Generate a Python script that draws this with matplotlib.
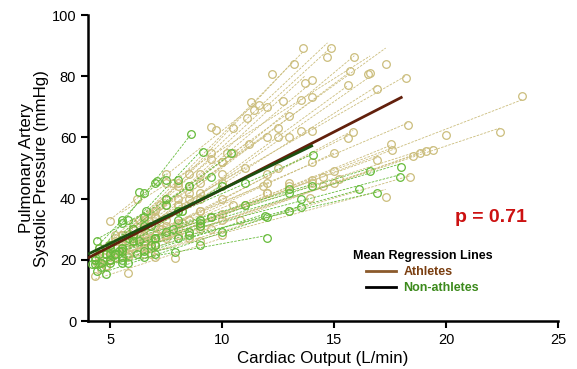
"""
Pulmonary artery systolic pressure vs cardiac output, per-subject regressions
"""

import numpy as np
import matplotlib
matplotlib.use("Agg")
import matplotlib.pyplot as plt
from matplotlib.lines import Line2D

plt.rcParams["font.family"] = ["Liberation Sans", "DejaVu Sans"]

# athletes: cardiac output (L/min) and PASP (mmHg) per subject
athlete_co = [
    [5.2, 6.8, 7.8, 10.5, 13.6],
    [5.8, 7.2, 8.5, 12.0, 14.85],
    [6.0, 7.5, 9.5, 12.2, 14.7],
    [5.5, 6.5, 8.0, 11.3, 13.2],
    [6.2, 8.0, 10.0, 13.5, 15.9],
    [6.5, 8.5, 10.5, 14.0, 17.3],
    [5.0, 6.5, 8.0, 11.65, 14.0],
    [5.5, 7.5, 9.5, 12.7, 16.6],
    [5.0, 6.2, 7.5, 9.7, 11.4],
    [5.5, 7.0, 8.5, 11.1, 13.7],
    [6.0, 7.5, 9.0, 12.5, 15.6],
    [6.5, 8.2, 10.0, 13.5, 16.9],
    [6.0, 8.0, 10.0, 14.0, 18.2],
    [5.5, 7.0, 9.0, 12.5, 15.7],
    [5.0, 7.0, 9.0, 13.0, 16.5],
    [5.5, 7.5, 10.0, 14.0, 18.3],
    [5.0, 7.5, 10.0, 15.0, 20.0, 23.4],
    [5.0, 7.0, 9.0, 14.0, 18.5, 22.4],
    [4.8, 7.0, 9.5, 14.5, 19.4],
    [4.8, 6.8, 9.5, 14.5, 19.1],
    [5.2, 7.5, 10.0, 15.0, 18.85],
    [4.5, 6.5, 9.0, 13.0, 17.55],
    [4.6, 6.5, 8.5, 13.0, 18.4],
    [4.8, 6.8, 9.0, 13.9, 17.3],
    [4.5, 5.8, 7.0, 10.8, 15.2],
    [5.0, 6.5, 8.0, 12.0, 15.85],
    [5.5, 7.2, 9.0, 12.5, 15.6],
    [5.0, 6.8, 8.5, 12.0, 15.0],
    [5.0, 6.5, 8.0, 12.0, 16.9],
    [4.3, 5.8, 7.0, 7.9, 10.0],
    [4.5, 5.5, 6.5, 8.5, 11.0],
    [5.0, 6.0, 7.0, 9.0, 11.2],
    [5.5, 6.5, 7.5, 10.0, 12.0],
    [4.8, 5.8, 7.0, 9.5, 12.0],
    [5.0, 6.5, 8.0, 11.0, 14.0],
    [6.0, 7.5, 9.0, 13.0, 17.6],
    [4.5, 5.2, 6.0, 8.0, 9.5],
    [5.2, 6.3, 7.5, 10.2, 13.0],
    [4.4, 5.5, 6.6, 8.2, 10.5],
    [4.7, 6.0, 7.3, 9.0, 11.8],
]
athlete_pasp = [
    [27, 35, 45, 63, 89.3],
    [28, 38, 48, 70, 89.3],
    [30, 40, 55, 80.7, 86.2],
    [25, 32, 45, 71.7, 84],
    [27, 38, 52, 72.2, 86.2],
    [30, 42, 55, 78.8, 84],
    [22, 32, 40, 70.6, 73.3],
    [28, 45, 63.5, 72, 81],
    [32.7, 40, 48, 62.4, 69],
    [24, 34, 44, 66.3, 77.9],
    [26, 33, 42, 60, 77.1],
    [28, 36, 45, 62, 76],
    [27, 38, 48, 62, 79.6],
    [25, 34, 45, 63, 81.8],
    [22, 31, 40, 60, 80.9],
    [24, 31, 40, 52, 64],
    [20, 28, 35, 49, 60.8, 73.6],
    [20, 25, 30, 45, 53.9, 61.7],
    [22, 28, 34, 47, 55.9],
    [18, 24, 30, 44, 55.7],
    [21, 27, 33, 45, 55],
    [19, 25, 31, 44, 57.8],
    [17, 22, 27, 36, 47.2],
    [18, 22, 26, 40.3, 40.4],
    [20.5, 22, 25, 33, 46.4],
    [20, 26, 32, 48, 61.9],
    [23, 30, 36, 50, 59.9],
    [21, 27, 33, 45, 54.8],
    [22, 26, 30, 42, 52.6],
    [14.7, 15.8, 21, 20.5, 28],
    [22, 26, 30, 40, 50],
    [25, 30, 36, 48, 58],
    [28, 33, 38, 52, 60],
    [18, 21, 25, 34, 42],
    [20, 24, 28, 38, 46],
    [24, 28, 33, 45, 55.9],
    [24, 28, 32, 44, 53],
    [26, 33, 40, 55, 67],
    [19, 23, 27, 32, 38],
    [21, 26, 30, 36, 44],
]

# non-athletes
nonathlete_co = [
    [4.3, 5.5, 7.0, 8.6],
    [4.5, 5.5, 6.3, 6.5, 7.5],
    [4.8, 6.0, 7.1, 8.0, 9.15],
    [5.0, 6.5, 7.5, 8.5, 10.4],
    [4.3, 5.2, 6.0, 8.0, 10.0],
    [4.4, 5.5, 6.2, 8.5, 11.9],
    [4.8, 5.8, 7.0, 10.0, 13.5],
    [5.0, 6.5, 8.0, 12.0, 16.1],
    [5.2, 6.8, 8.5, 13.0, 16.9],
    [5.5, 7.0, 9.0, 13.5, 17.95],
    [5.0, 7.0, 9.0, 13.0, 18.0],
    [5.5, 7.5, 9.5, 13.0, 16.6],
    [5.0, 6.5, 8.0, 11.0, 14.05],
    [4.2, 5.0, 5.5, 7.0, 7.9],
    [4.5, 6.0, 8.0, 11.0, 14.0],
    [4.6, 5.5, 6.5, 9.0, 12.0],
    [4.4, 5.8, 6.6, 7.5, 9.5],
    [4.3, 5.0, 5.8, 6.8, 8.2],
    [4.6, 5.4, 6.3, 7.8, 9.0],
]
nonathlete_pasp = [
    [20, 33, 45, 61.3],
    [24, 32, 42.3, 41.7, 46],
    [22, 30, 45.8, 46, 55.3],
    [25, 34, 38, 44, 55],
    [18.8, 22, 26, 36, 44],
    [16.5, 20, 22, 28, 34.3],
    [15.5, 19, 22, 29, 37.3],
    [20, 23, 27, 34, 43],
    [22, 25, 29, 36, 41.7],
    [23, 27, 31, 40, 47.2],
    [22, 27, 32, 42, 50.4],
    [24, 29, 34, 43, 49],
    [25, 31, 36, 45, 54.2],
    [18.5, 19, 21, 25, 22.6],
    [22, 28, 33, 38, 44],
    [17.7, 19, 21, 25, 27.3],
    [26, 33, 36, 40, 47],
    [21, 24, 27, 31, 36],
    [19, 23, 26, 30, 33],
]

# mean regression lines: intercept, slope, CO range
athlete_mean = {"intercept": 5.6, "slope": 3.75, "co_range": (4.0, 18.05)}
nonathlete_mean = {"intercept": 7.7, "slope": 3.54, "co_range": (4.0, 14.05)}

p_value_text = "p = 0.71"

tan = "#cbbd7c"
green = "#66bb3a"


def draw_subjects(ax, co_list, pasp_list, color, z):
    for co, pasp in zip(co_list, pasp_list):
        co = np.array(co)
        pasp = np.array(pasp)
        slope, intercept = np.polyfit(co, pasp, 1)
        xs = np.array([co.min(), co.max()])
        ax.plot(xs, intercept + slope * xs, linestyle=(0, (3, 1.5)),
                color=color, linewidth=0.6, zorder=z)
        ax.plot(co, pasp, "o", markersize=5.5, markerfacecolor="none",
                markeredgecolor=color, markeredgewidth=0.9, zorder=z + 0.5)


fig = plt.figure(figsize=(5.77, 3.69), dpi=100)
ax = fig.add_axes([0.1525, 0.130, 0.8146, 0.829])

draw_subjects(ax, athlete_co, athlete_pasp, tan, 2)
draw_subjects(ax, nonathlete_co, nonathlete_pasp, green, 3)

for mean, color in [(athlete_mean, "#62200c"), (nonathlete_mean, "#1c4f10")]:
    xs = np.array(mean["co_range"])
    ax.plot(xs, mean["intercept"] + mean["slope"] * xs, color=color,
            linewidth=2.0, zorder=5, solid_capstyle="butt")

ax.set_xlim(4, 25)
ax.set_ylim(0, 100)
ax.set_xticks([5, 10, 15, 20, 25])
ax.set_yticks([0, 20, 40, 60, 80, 100])
for side in ["top", "right"]:
    ax.spines[side].set_visible(False)
for side in ["left", "bottom"]:
    ax.spines[side].set_linewidth(1.8)
ax.tick_params(direction="out", length=5, width=1.5, labelsize=10.5)

ax.set_xlabel("Cardiac Output (L/min)", fontsize=12.2, labelpad=3)
ax.set_ylabel("Pulmonary Artery\nSystolic Pressure (mmHg)", fontsize=12.2,
              labelpad=2, linespacing=1.0)

ax.text(0.858, 0.337, p_value_text, transform=ax.transAxes, color="#cc1111",
        fontsize=14, fontweight="bold", ha="center", va="center")

handles = [
    Line2D([], [], color="#8b5a2b", linewidth=2),
    Line2D([], [], color="black", linewidth=2),
]
leg = ax.legend(handles, ["Athletes", "Non-athletes"],
                title="Mean Regression Lines", frameon=False,
                fontsize=9, handlelength=2.4, handletextpad=0.6,
                labelspacing=0.35, borderaxespad=0,
                loc="center", bbox_to_anchor=(0.712, 0.16))
leg.get_title().set_fontweight("bold")
leg.get_title().set_fontsize(9)
for text, color in zip(leg.get_texts(), ["#7a3e10", "#3c8a1c"]):
    text.set_color(color)
    text.set_fontweight("bold")

plt.savefig("out.png", dpi=100)
